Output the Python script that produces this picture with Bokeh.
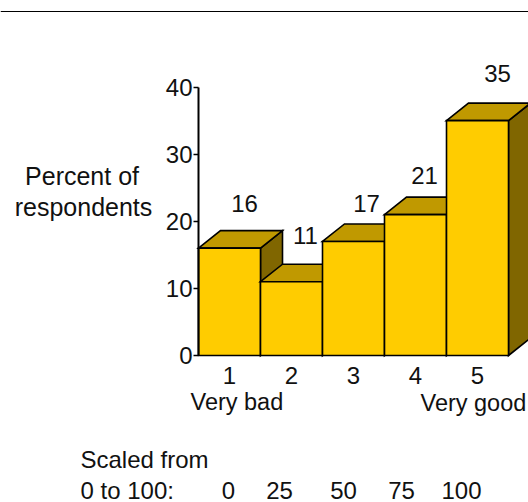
from bokeh.plotting import figure
from bokeh.core.properties import value
from bokeh.models import FixedTicker, LinearAxis, Range1d
from bokeh.embed import file_html
from bokeh.resources import INLINE

ratings = [1, 2, 3, 4, 5]
percents = [16, 11, 17, 21, 35]
y_ticks = [0, 10, 20, 30, 40]
scaled = ["0", "25", "50", "75", "100"]

W, H = 528, 502
LEFT, BOTTOM = 198, 355
PX_X, PX_Y = 62.0, 6.71
FONT = "Liberation Sans"
FS = "24px"
DEPTH_X, DEPTH_Y = 22 / PX_X, 17.5 / PX_Y
BASE_FIX = 8  # the text glyph sits this far below the requested baseline

def sx(px):
    return 0.5 + (px - LEFT) / PX_X

def sy(py):
    return (BOTTOM - py) / PX_Y

p = figure(width=W, height=H, output_backend="svg", toolbar_location=None,
           x_range=Range1d(sx(0), sx(W)), y_range=Range1d(sy(H), sy(0)),
           min_border_left=0, min_border_right=0, min_border_top=0, min_border_bottom=0,
           x_axis_location=None, y_axis_location=None,
           outline_line_color=None, background_fill_color="white")
p.grid.visible = False

xs, ys, fills = [], [], []
for r, v in zip(ratings, percents):
    l, h = r - 0.5, r + 0.5
    xs += [[h, h + DEPTH_X, h + DEPTH_X, h], [l, l + DEPTH_X, h + DEPTH_X, h], [l, h, h, l]]
    ys += [[0, DEPTH_Y, v + DEPTH_Y, v], [v, v + DEPTH_Y, v + DEPTH_Y, v], [0, 0, v, v]]
    fills += ["#806600", "#C09900", "#FFCC00"]
p.patches(xs, ys, fill_color=fills, line_color="#000000", line_width=1.6, line_join="miter")

yax = LinearAxis(ticker=FixedTicker(ticks=y_ticks), bounds=(0, 40), fixed_location=0.5)
yax.axis_line_width = 2
yax.axis_line_color = "#000000"
yax.major_tick_line_width = 1.5
yax.major_tick_line_color = "#000000"
yax.major_tick_in = 0
yax.major_tick_out = 5
yax.minor_tick_line_color = None
yax.major_label_standoff = 1
yax.major_label_text_font = FONT
yax.major_label_text_font_size = FS
yax.major_label_text_color = "#111111"
p.add_layout(yax, "left")

xax = LinearAxis(ticker=FixedTicker(ticks=ratings), fixed_location=0)
xax.axis_line_color = None
xax.major_tick_line_color = None
xax.minor_tick_line_color = None
xax.major_label_standoff = 5
xax.major_label_text_font = FONT
xax.major_label_text_font_size = FS
xax.major_label_text_color = "#111111"
p.add_layout(xax, "below")

def txt(strings, pxs, pys, align="left", size=FS):
    p.text([sx(a) for a in pxs], [sy(b - BASE_FIX) for b in pys], text=strings, text_align=align,
           text_baseline="alphabetic", text_font=value(FONT), text_font_size=value(size),
           text_color="#111111")

# value labels (offset right of bar centres, above the 3D tops)
label_px = [244, 305, 366, 424, 497]
label_py = [211, 243, 211, 183, 81]
txt([str(v) for v in percents], label_px, label_py, "center")

txt(["Percent  of", "respondents"], [85, 83], [183, 214], "center", "25px")
txt(["Very bad", "Very good"], [190, 420], [409, 410], "left", "23.5px")
txt(["Scaled from", "0 to 100:"], [80, 80], [467, 498])
txt(scaled, [228, 279, 343, 401, 461], [498] * 5, "center")

p.segment([sx(0)], [sy(11)], [sx(W)], [sy(11)], line_color="#000000", line_width=1)

open("out.html", "w").write(file_html(p, INLINE))
